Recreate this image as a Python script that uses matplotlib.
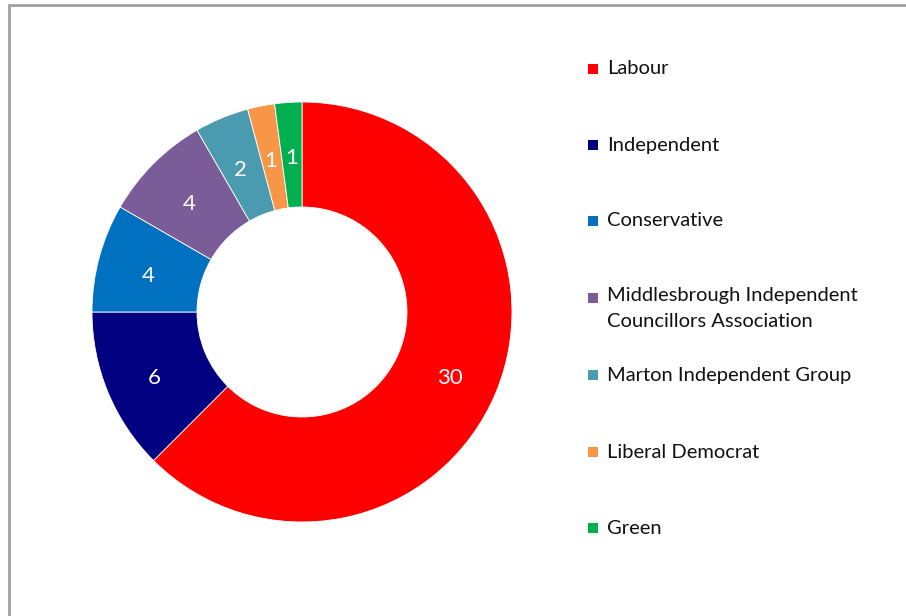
import matplotlib.pyplot as plt
from matplotlib.patches import Rectangle

# party seats
parties = ["Labour", "Independent", "Conservative",
           "Middlesbrough Independent\nCouncillors Association",
           "Marton Independent Group", "Liberal Democrat", "Green"]
seats = [30, 6, 4, 4, 2, 1, 1]
colors = ["#FF0000", "#000080", "#0070C0", "#7A5C99", "#4A9BB0", "#F79646", "#00B050"]

plt.rcParams['font.family'] = ['Lato', 'DejaVu Sans']

W, H = 906, 616
fig = plt.figure(figsize=(W / 100, H / 100), dpi=100)

# outer border (cut off at right/bottom like the original)
fig.add_artist(Rectangle((9 / W, -0.1), 1.2, (H - 5) / H + 0.1, transform=fig.transFigure,
                         fill=False, edgecolor="#A0A0A0", linewidth=2))

cx, cy, r = 302, H - 312, 210
ax = fig.add_axes([(cx - r) / W, (cy - r) / H, 2 * r / W, 2 * r / H])
wedges, texts = ax.pie(seats, colors=colors, startangle=90, counterclock=False,
                       radius=1, labels=[str(s) for s in seats], labeldistance=0.76,
                       wedgeprops=dict(width=0.5, edgecolor="white", linewidth=0.6),
                       textprops=dict(color="white", fontsize=16))
for t in texts:
    t.set_horizontalalignment("center")
    t.set_verticalalignment("center_baseline")
    x, y = t.get_position()
    t.set_position((x, y - 0.015))  # excel sits labels a touch lower
ax.set_xlim(-1, 1)
ax.set_ylim(-1, 1)

# legend drawn in pixel coordinates
lg = fig.add_axes([0, 0, 1, 1])
lg.set_xlim(0, W)
lg.set_ylim(H, 0)
lg.axis("off")
leg_y = [69, 145, 221, 298, 375, 452, 528]
for name, col, y in zip(parties, colors, leg_y):
    lg.add_patch(Rectangle((588, y - 5), 10, 10, facecolor=col, edgecolor="none"))
    if "\n" in name:
        lg.text(607, y - 11, name, fontsize=14.5, color="#111111", va="top", linespacing=1.65)
    else:
        lg.text(607, y, name, fontsize=14.5, color="#111111", va="center")

fig.savefig("out.png", dpi=100)
